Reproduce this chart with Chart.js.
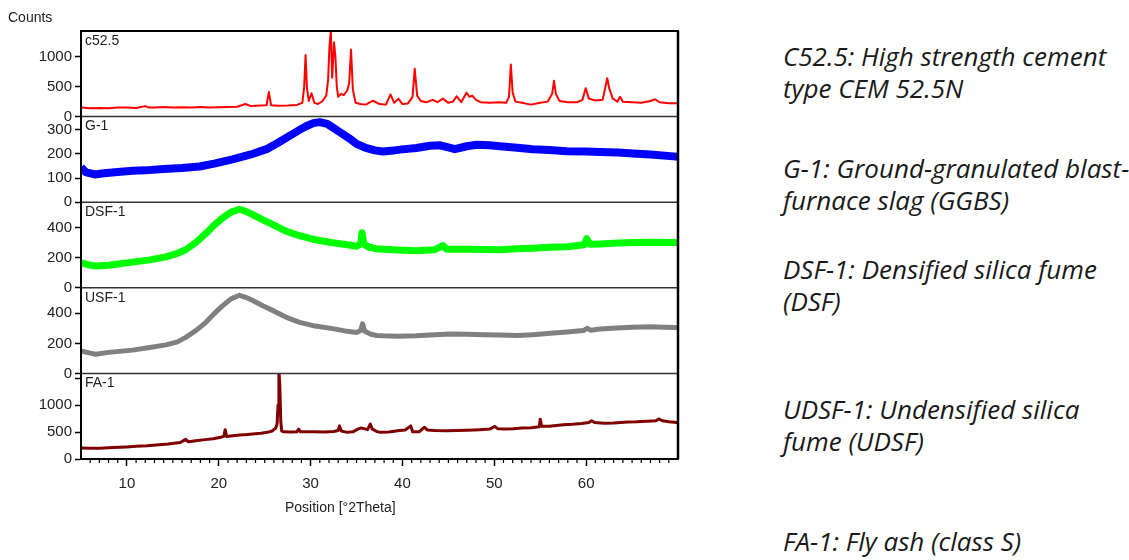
<!DOCTYPE html>
<html>
<head>
<meta charset="utf-8">
<script src="https://cdn.jsdelivr.net/npm/chart.js@4.4.1/dist/chart.umd.min.js"></script>
<style>
  body { margin: 0; background: #fff; width: 1129px; height: 560px; overflow: hidden; position: relative; }
  #wrap { position: absolute; left: 0; top: 0; width: 700px; height: 560px; }
  .axtxt { position: absolute; font: 14px "Liberation Sans", Arial, sans-serif; color: #222; white-space: nowrap; }
  .note { position: absolute; left: 783px; font: italic 26px "Open Sans", sans-serif; line-height: 32px; color: #1a1a1a; white-space: nowrap; }
</style>
</head>
<body>
<div id="wrap"><canvas id="xrd"></canvas></div>
<div class="axtxt" style="left:8px; top:9px;">Counts</div>
<div class="axtxt" style="left:285px; top:499px;">Position [°2Theta]</div>

<div class="note" style="top:40px;">C52.5: High strength cement<br>type CEM 52.5N</div>
<div class="note" style="top:152px;">G-1: Ground-granulated blast-<br>furnace slag (GGBS)</div>
<div class="note" style="top:253px;">DSF-1: Densified silica fume<br>(DSF)</div>
<div class="note" style="top:393px;">UDSF-1: Undensified silica<br>fume (UDSF)</div>
<div class="note" style="top:525px;">FA-1: Fly ash (class S)</div>

<script>
// 各樣品的 XRD 數據 (2θ, counts)
const thetaC52 = [5, 6, 7, 8, 9, 10, 11, 12, 12.4, 13, 14, 15, 16, 17, 18, 19, 20, 21, 22, 22.9, 23.5, 24, 24.6, 25.2, 25.45, 25.7,
  26.5, 27.5, 28.5, 29.1, 29.3, 29.45, 29.6, 29.8, 30.1, 30.4, 30.8, 31.3, 31.7, 31.9, 32.05, 32.2, 32.35, 32.55, 32.7, 32.85,
  33.0, 33.3, 33.6, 34.0, 34.2, 34.4, 34.6, 34.9, 35.4, 36.0, 36.8, 37.5, 38.2, 38.7, 39.1, 39.55, 40.0, 40.6, 41.1, 41.33, 41.6,
  42.0, 42.6, 43.3, 43.8, 44.4, 45.0, 45.5, 45.9, 46.4, 46.97, 47.3, 47.6, 48.0, 48.5, 49.5, 50.5, 51.3, 51.6, 51.8, 52.0, 52.3,
  53.0, 54.0, 55.0, 55.8, 56.3, 56.5, 56.7, 57.1, 58.0, 59.0, 59.6, 59.95, 60.3, 61.0, 61.8, 62.1, 62.3, 62.5, 62.9, 63.4, 63.7,
  64.0, 65.0, 66.0, 67.0, 67.5, 68.0, 69.0, 70];
const countsC52 = [150, 140, 145, 140, 150, 150, 145, 175, 150, 150, 160, 150, 155, 150, 160, 150, 155, 160, 165, 210, 175, 180, 185, 190, 410, 190,
  180, 185, 195, 230, 500, 1030, 480, 260, 390, 230, 210, 260, 350, 600, 1170, 1430, 650, 1240, 1000, 500,
  330, 380, 360, 440, 560, 1120, 450, 230, 210, 200, 265, 210, 200, 370, 230, 300, 210, 220, 330, 800, 350,
  260, 240, 280, 240, 300, 230, 250, 340, 240, 400, 330, 350, 280, 240, 230, 240, 230, 330, 870, 400, 250,
  230, 200, 230, 250, 380, 600, 380, 260, 240, 240, 280, 475, 300, 270, 280, 500, 640, 480, 300, 250, 330,
  250, 240, 230, 260, 290, 240, 225, 225];

const thetaG1 = [5, 5.5, 6.5, 7.5, 9, 10.6, 12, 14, 16, 17.9, 19.5, 21.5, 23.5, 25.2, 26.5, 27.7, 28.8, 29.5, 30.3, 31, 31.8,
  32.4, 33.2, 34.2, 35, 36, 37, 37.9, 39, 39.7, 41.5, 43, 44.1, 45.2, 45.7, 47, 48.1, 49.5, 50.6, 52.5, 54.2, 56, 57.9, 60,
  61.5, 63.5, 65.1, 67, 69.5, 70];
const countsG1 = [145, 125, 115, 120, 125, 130, 132, 138, 142, 148, 160, 178, 198, 220, 248, 275, 300, 315, 328, 332, 325,
  310, 290, 265, 242, 225, 215, 210, 214, 218, 225, 234, 236, 225, 220, 232, 238, 236, 232, 226, 220, 216, 211, 210,
  208, 206, 202, 198, 190, 188];

const thetaDSF = [5, 6, 6.6, 8, 10.6, 12.5, 14.25, 15.5, 16.4, 17.5, 18.6, 19.5, 20.4, 21.3, 22.25, 23, 23.7, 24.8, 25.9, 27.3,
  28.8, 30.5, 32.4, 34, 35, 35.45, 35.6, 35.8, 36.3, 37.2, 37.9, 39.5, 41.5, 43.5, 44.4, 44.8, 47, 50.6, 52.5, 54.2, 56,
  57.9, 59.8, 60.06, 60.4, 61.5, 63.5, 65.1, 67, 69.5, 70];
const countsDSF = [165, 150, 145, 150, 170, 185, 205, 228, 252, 300, 360, 415, 462, 500, 520, 505, 485, 450, 418, 375,
  345, 318, 298, 285, 275, 290, 365, 290, 270, 258, 255, 250, 245, 252, 280, 255, 255, 252, 258, 262, 268,
  272, 285, 325, 288, 290, 296, 300, 302, 300, 300];

const thetaUSF = [5, 6, 6.6, 8, 10.6, 12.5, 14.25, 15.5, 16.4, 17.5, 18.6, 19.5, 20.4, 21.3, 22.25, 23, 23.7, 24.8, 25.9, 27.3,
  28.8, 30.5, 32.4, 34, 35, 35.45, 35.65, 35.9, 36.5, 37.2, 37.9, 39.5, 41.5, 43.5, 45.3, 47, 48.9, 50.6, 52.5, 54.2, 56.1,
  57.9, 59.7, 60.1, 60.5, 61.5, 63.3, 65, 66.9, 68.5, 70];
const countsUSF = [150, 135, 128, 140, 155, 172, 190, 210, 240, 285, 340, 398, 450, 495, 520, 505, 485, 450, 418, 375,
  340, 315, 298, 280, 272, 285, 330, 280, 262, 252, 250, 248, 250, 258, 262, 260, 258, 255, 252, 258, 267,
  275, 285, 300, 288, 295, 303, 308, 311, 308, 305];

const thetaFA = [5, 6, 7, 8.5, 10, 11, 12.2, 13.5, 14.5, 15.8, 16.4, 16.7, 17.5, 18.5, 19.4, 20.2, 20.55, 20.7, 20.85, 21.5,
  22.3, 23.1, 24, 24.6, 25.3, 25.8, 26.2, 26.35, 26.45, 26.55, 26.65, 26.75, 26.85, 27.1, 27.8, 28.5, 28.7, 28.9, 29.7,
  30.35, 31.5, 32.5, 33.0, 33.15, 33.35, 34, 34.6, 35.2, 35.5, 35.9, 36.2, 36.5, 36.7, 37.2, 37.6, 38.5, 39.3, 39.7, 40.3,
  40.9, 41.1, 41.8, 42.4, 42.7, 43.5, 44.8, 46, 47, 48.4, 49.5, 50.05, 50.4, 51.2, 52.05, 53, 54, 54.9, 55.0, 55.15, 56,
  57.5, 58.5, 59.5, 60.3, 60.6, 60.9, 62, 63, 64.5, 65.5, 66.6, 67.6, 67.9, 68.3, 69, 69.9];
const countsFA = [205, 200, 200, 215, 225, 235, 245, 265, 280, 305, 365, 320, 340, 360, 375, 405, 420, 545, 420, 430,
  445, 455, 470, 480, 495, 520, 575, 650, 1000, 1650, 1350, 700, 520, 505, 500, 505, 555, 505, 505,
  505, 500, 510, 530, 615, 520, 495, 505, 560, 575, 560, 545, 650, 560, 510, 495, 500, 520, 530, 540,
  615, 505, 505, 590, 540, 530, 525, 530, 535, 545, 555, 605, 560, 555, 560, 575, 580, 600, 740, 610, 610,
  635, 645, 660, 680, 710, 680, 665, 670, 685, 690, 700, 710, 745, 710, 690, 680];

const panelNames = ['c52.5', 'G-1', 'DSF-1', 'USF-1', 'FA-1'];
const xTickLabels = [10, 20, 30, 40, 50, 60];
const ticksC52 = [0, 500, 1000];
const ticksG1 = [0, 100, 200, 300];
const ticksDSF = [0, 200, 400];
const ticksUSF = [0, 200, 400];
const ticksFA = [0, 500, 1000, 1500];

function pts(xs, ys) {
  return xs.map((x, i) => ({ x: x, y: ys[i] }));
}

Chart.defaults.font.family = '"Liberation Sans", Arial, sans-serif';
Chart.defaults.color = '#222';

// 每個面板一條 y 軸，疊在左邊
function panelAxis(weight, max, tickList, hide) {
  return {
    type: 'linear',
    position: 'left',
    stack: 'xrd',
    stackWeight: 1,
    weight: weight,
    min: 0,
    max: max,
    grid: { drawOnChartArea: false, drawTicks: true, tickLength: 6, color: '#000', tickWidth: 1.5 },
    border: { display: true, color: '#000', width: 2 },
    ticks: {
      padding: 3,
      autoSkip: false,
      font: { size: 15 },
      color: '#222',
      callback: (v) => (v === hide ? '' : v)
    },
    afterBuildTicks: (s) => { s.ticks = tickList.map((v) => ({ value: v })); },
    afterFit: (s) => { s.width = 81; }
  };
}

// 框線、分隔線、次刻度、面板名稱
const framePlugin = {
  id: 'framePlugin',
  afterDraw(chart) {
    const ctx = chart.ctx;
    const a = chart.chartArea;
    const ids = ['yC52', 'yG1', 'yDSF', 'yUSF', 'yFA'];
    ctx.save();
    ctx.strokeStyle = '#333';
    ctx.lineWidth = 1.5;
    ids.slice(0, 4).forEach((id) => {
      const b = chart.scales[id].bottom;
      ctx.beginPath();
      ctx.moveTo(a.left, b);
      ctx.lineTo(a.right, b);
      ctx.stroke();
    });
    ctx.strokeStyle = '#000';
    ctx.lineWidth = 2;
    ctx.strokeRect(a.left, a.top, a.right - a.left, a.bottom - a.top);
    ctx.lineWidth = 2.5;
    ctx.beginPath();
    ctx.moveTo(a.right, a.top);
    ctx.lineTo(a.right, a.bottom);
    ctx.stroke();

    const xs = chart.scales.x;
    ctx.lineWidth = 1.2;
    for (let v = 6; v < 70; v++) {
      if (v % 10 === 0) continue;
      const px = xs.getPixelForValue(v);
      ctx.beginPath();
      ctx.moveTo(px, a.bottom);
      ctx.lineTo(px, a.bottom + 4);
      ctx.stroke();
    }

    ctx.fillStyle = '#222';
    ctx.font = '14px "Liberation Sans", Arial, sans-serif';
    ctx.textBaseline = 'top';
    ids.forEach((id, i) => {
      ctx.fillText(panelNames[i], a.left + 4, chart.scales[id].top + 3);
    });
    ctx.restore();
  }
};

const ctx = document.getElementById('xrd').getContext('2d');
const xrdChart = new Chart(ctx, {
  type: 'line',
  data: {
    datasets: [
      { label: 'c52.5', data: pts(thetaC52, countsC52), yAxisID: 'yC52', borderColor: '#ff0000', borderWidth: 2 },
      { label: 'G-1', data: pts(thetaG1, countsG1), yAxisID: 'yG1', borderColor: '#0000ff', borderWidth: 8 },
      { label: 'DSF-1', data: pts(thetaDSF, countsDSF), yAxisID: 'yDSF', borderColor: '#00ff00', borderWidth: 7 },
      { label: 'USF-1', data: pts(thetaUSF, countsUSF), yAxisID: 'yUSF', borderColor: '#808080', borderWidth: 5 },
      { label: 'FA-1', data: pts(thetaFA, countsFA), yAxisID: 'yFA', borderColor: '#800000', borderWidth: 3 }
    ]
  },
  options: {
    responsive: true,
    maintainAspectRatio: false,
    animation: false,
    events: [],
    layout: { padding: { top: 31, right: 22, left: 0, bottom: 0 } },
    elements: { point: { radius: 0 }, line: { tension: 0, borderJoinStyle: 'round' } },
    plugins: { legend: { display: false }, tooltip: { enabled: false } },
    scales: {
      x: {
        type: 'linear',
        min: 5,
        max: 70,
        grid: { drawOnChartArea: false, drawTicks: true, tickLength: 7, color: '#000', tickWidth: 1.5 },
        border: { display: true, color: '#000', width: 2 },
        ticks: { padding: 9, font: { size: 15 }, color: '#222', maxRotation: 0 },
        afterBuildTicks: (s) => { s.ticks = xTickLabels.map((v) => ({ value: v })); },
        afterFit: (s) => { s.height = 101; }
      },
      yFA: panelAxis(1, 1590, ticksFA, 1500),
      yUSF: panelAxis(2, 570, ticksUSF, null),
      yDSF: panelAxis(3, 567, ticksDSF, null),
      yG1: panelAxis(4, 355, ticksG1, null),
      yC52: panelAxis(5, 1430, ticksC52, null)
    }
  },
  plugins: [framePlugin]
});
</script>
</body>
</html>
